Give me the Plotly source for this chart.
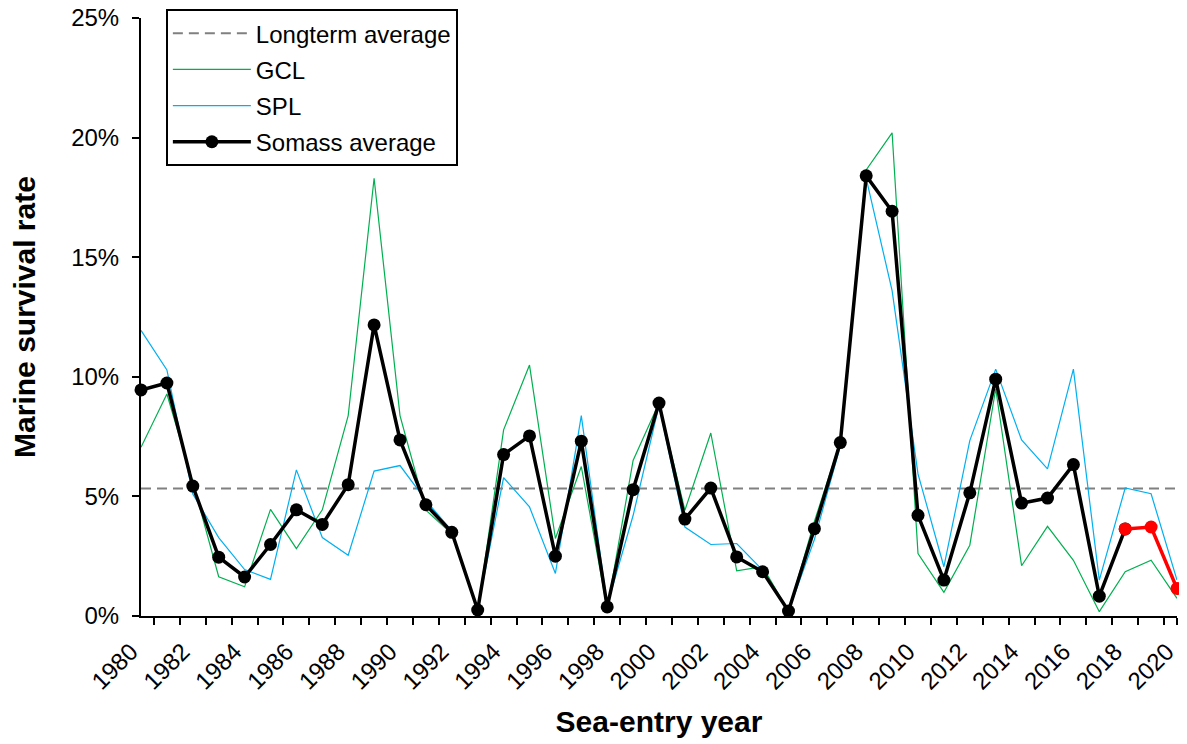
import plotly.graph_objects as go

years = list(range(1980, 2021))
gcl = [7.05, 9.28, 5.6, 1.64, 1.22, 4.46, 2.82, 4.44, 8.38, 18.3,
       8.38, 4.42, 3.44, 0.2, 7.78, 10.49, 3.24, 6.25, 0.3, 6.5,
       8.9, 4.42, 7.65, 1.89, 2.06, 0.2, 3.95, 7.3, 18.65, 20.2,
       2.61, 0.99, 2.96, 9.5, 2.1, 3.75, 2.33, 0.18, 1.85, 2.33, 0.74]
spl = [11.94, 10.29, 5.1, 3.28, 1.94, 1.53, 6.11, 3.28, 2.54, 6.06,
       6.29, 4.83, 3.56, 0.3, 5.78, 4.56, 1.78, 8.38, 0.45, 4.2,
       8.8, 3.72, 2.99, 3.03, 1.92, 0.2, 3.2, 7.1, 18.3, 13.6,
       5.94, 2.06, 7.33, 10.32, 7.36, 6.15, 10.32, 1.5, 5.35, 5.11, 1.5]
somass = [9.45, 9.74, 5.43, 2.46, 1.63, 2.99, 4.44, 3.83, 5.49, 12.17,
          7.36, 4.65, 3.5, 0.25, 6.75, 7.53, 2.5, 7.31, 0.38, 5.28,
          8.9, 4.05, 5.35, 2.47, 1.85, 0.21, 3.65, 7.25, 18.4, 16.92,
          4.21, 1.5, 5.15, 9.9, 4.72, 4.93, 6.33, 0.83, 3.64, 3.72, 1.15]
longterm_avg = 5.33
red_from_year = 2018

label_years = list(range(1980, 2021, 2))
y_ticks = [0, 5, 10, 15, 20, 25]

FONT = "Arial, Liberation Sans, sans-serif"
k = years.index(red_from_year)

fig = go.Figure()
fig.add_trace(go.Scatter(
    x=[years[0], years[-1]], y=[longterm_avg, longterm_avg], mode="lines",
    name="Longterm average", line=dict(color="#808080", width=2, dash="10px,6px"),
    legendgroup="a"))
fig.add_trace(go.Scatter(
    x=years, y=gcl, mode="lines", name="GCL",
    line=dict(color="#00B050", width=1.2), legendgroup="b"))
fig.add_trace(go.Scatter(
    x=years, y=spl, mode="lines", name="SPL",
    line=dict(color="#00B0F0", width=1.2), legendgroup="c"))
fig.add_trace(go.Scatter(
    x=years[:k + 1], y=somass[:k + 1], mode="lines+markers", name="Somass average",
    line=dict(color="black", width=3.5), marker=dict(color="black", size=13),
    cliponaxis=False, legendgroup="d"))
fig.add_trace(go.Scatter(
    x=years[k:], y=somass[k:], mode="lines+markers", showlegend=False,
    line=dict(color="#FF0000", width=3.5), marker=dict(color="#FF0000", size=13),
    cliponaxis=False))

# page body has an 8px margin, so the figure is 8px smaller than the window
fig.update_layout(
    width=1179, height=736,
    margin=dict(l=133, r=10, t=10, b=128, autoexpand=False),
    plot_bgcolor="white", paper_bgcolor="white",
    font=dict(family=FONT, size=24, color="black"),
    showlegend=True,
    legend=dict(x=0.024, y=1.015, xanchor="left", yanchor="top",
                bordercolor="black", borderwidth=2, bgcolor="white",
                font=dict(size=24), tracegroupgap=2, itemwidth=78),
    xaxis=dict(
        range=[1980, 2020], tickmode="array", tickvals=label_years,
        ticktext=[str(v) for v in label_years], tickangle=-45, ticks="",
        ticklabelstandoff=10, ticklabelshift=-10, ticklabeloverflow="allow",
        tickfont=dict(size=24), automargin=False,
        showline=True, linecolor="black", linewidth=2, showgrid=False, zeroline=False,
        minor=dict(tickmode="array", tickvals=[y + 0.5 for y in years[:-1]] + [years[-1]],
                   ticks="outside", ticklen=7, tickwidth=2, tickcolor="black", showgrid=False),
        title=dict(text="<b>Sea-entry year</b>", font=dict(size=30), standoff=17),
    ),
    yaxis=dict(
        range=[0, 25], tickmode="array", tickvals=y_ticks,
        ticktext=[f"{v}%" for v in y_ticks], ticks="outside", ticklen=7, tickwidth=2,
        tickcolor="black", ticklabelstandoff=8, ticklabeloverflow="allow",
        tickfont=dict(size=24), automargin=False,
        showline=True, linecolor="black", linewidth=2, showgrid=False, zeroline=False,
        title=dict(text="<b>Marine survival rate</b>", font=dict(size=30), standoff=37),
    ),
)

fig.write_html("out.html")
